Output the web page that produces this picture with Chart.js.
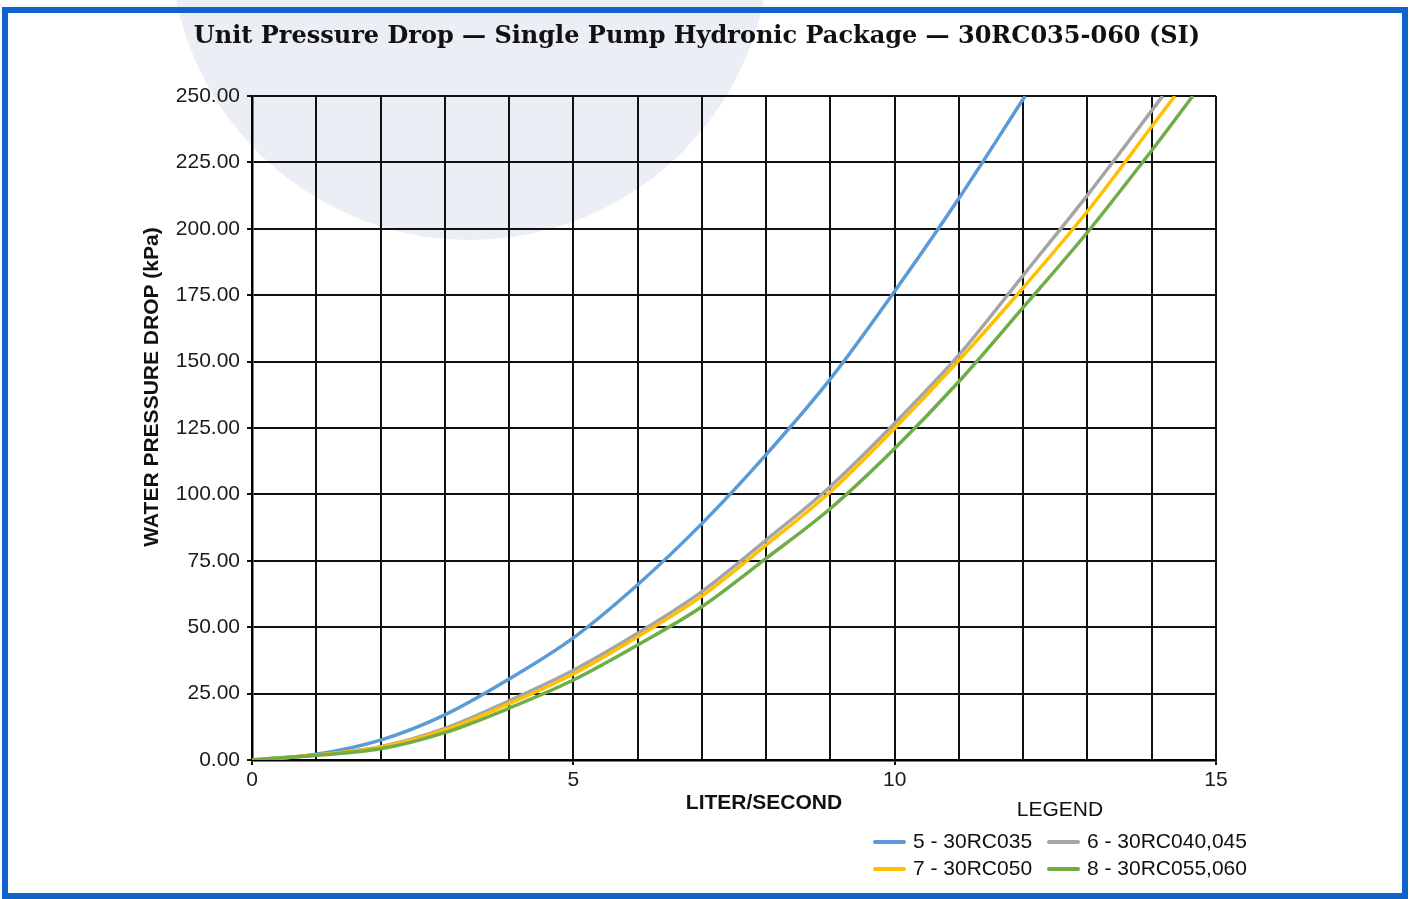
<!DOCTYPE html>
<html>
<head>
<meta charset="utf-8">
<script src="https://cdn.jsdelivr.net/npm/chart.js@4.4.1/dist/chart.umd.min.js"></script>
<style>
    html, body { margin: 0; padding: 0; background: #fff; }
    #wrap { position: relative; width: 1409px; height: 899px; }
    #frame {
        position: absolute; left: 2px; top: 7px; right: 1px; bottom: 0;
        border: 6px solid #0f63c9; pointer-events: none;
    }
</style>
</head>
<body>
<div id="wrap">
    <canvas id="pdChart" width="1409" height="899"></canvas>
    <div id="frame"></div>
</div>
<script>
// Flow (l/s) and pressure drop (kPa)
const seriesLabels = ['5 - 30RC035', '6 - 30RC040,045', '7 - 30RC050', '8 - 30RC055,060'];
const seriesColors = ['#5b9bd5', '#a5a5a5', '#ffc000', '#70ad47'];

const flow035 = [0, 1, 2, 3, 4, 5, 6, 7, 8, 9, 10, 11, 12.03];
const drop035 = [0, 2.2, 7.5, 17, 30.5, 46, 66, 89, 115, 143.5, 176.5, 211.5, 250];

const flow040 = [0, 1, 2, 3, 4, 5, 6, 7, 8, 9, 10, 11, 12, 13, 14, 14.17];
const drop040 = [0, 1.9, 5, 11.9, 22.3, 33.8, 47.7, 63.4, 82.8, 103, 126.8, 152.5, 182.5, 212.7, 244.5, 250];

const flow050 = [0, 1, 2, 3, 4, 5, 6, 7, 8, 9, 10, 11, 12, 13, 14, 14.36];
const drop050 = [0, 1.9, 4.8, 11.3, 21.2, 32.4, 46.4, 61.7, 80.9, 101, 124.9, 150.5, 177.8, 206.6, 238.5, 250];

const flow055 = [0, 1, 2, 3, 4, 5, 6, 7, 8, 9, 10, 11, 12, 13, 14, 14.64];
const drop055 = [0, 1.8, 4.2, 10.3, 19.5, 30.1, 43.3, 57.7, 75.9, 94.7, 117.3, 142.5, 170.4, 198.7, 229.5, 250];

const xTitle = 'LITER/SECOND';
const yTitle = 'WATER PRESSURE DROP (kPa)';
const chartTitle = 'Unit Pressure Drop \u2014 Single Pump Hydronic Package \u2014 30RC035-060 (SI)';

const sansFont = '"Liberation Sans", Arial, sans-serif';

function toPoints(xs, ys) {
    return xs.map((x, i) => ({ x: x, y: ys[i] }));
}

// faint watermark disc behind the plot
const watermark = {
    id: 'watermark',
    beforeDraw(chart) {
        const ctx = chart.ctx;
        ctx.save();
        ctx.fillStyle = '#eceef5';
        ctx.beginPath();
        ctx.arc(470, -60, 300, 0, Math.PI * 2);
        ctx.fill();
        ctx.restore();
    }
};

// title, axis titles and the two-column legend
const extras = {
    id: 'extras',
    afterDraw(chart) {
        const ctx = chart.ctx;
        const area = chart.chartArea;
        ctx.save();
        ctx.fillStyle = '#111';
        ctx.textAlign = 'center';
        ctx.textBaseline = 'middle';

        ctx.font = 'bold 24px "DejaVu Serif", serif';
        ctx.fillText(chartTitle, 697, 37);

        ctx.font = 'bold 21px ' + sansFont;
        ctx.fillText(xTitle, (area.left + area.right) / 2 + 30, area.bottom + 43);

        ctx.save();
        ctx.translate(area.left - 100, (area.top + area.bottom) / 2 - 41);
        ctx.rotate(-Math.PI / 2);
        ctx.fillText(yTitle, 0, 0);
        ctx.restore();

        ctx.font = '21px ' + sansFont;
        ctx.fillText('LEGEND', area.right - 156, area.bottom + 50);

        const colX = [area.right - 343, area.right - 169];
        const rowY = [area.bottom + 82, area.bottom + 109];
        ctx.textAlign = 'left';
        chart.data.datasets.forEach((ds, i) => {
            const x = colX[i % 2];
            const y = rowY[Math.floor(i / 2)];
            ctx.strokeStyle = ds.borderColor;
            ctx.lineWidth = 4;
            ctx.lineCap = 'round';
            ctx.beginPath();
            ctx.moveTo(x + 2, y);
            ctx.lineTo(x + 31, y);
            ctx.stroke();
            ctx.fillText(ds.label, x + 40, y);
        });
        ctx.restore();
    }
};

const datasets = [
    [flow035, drop035], [flow040, drop040], [flow050, drop050], [flow055, drop055]
].map((pair, i) => ({
    label: seriesLabels[i],
    data: toPoints(pair[0], pair[1]),
    borderColor: seriesColors[i],
    backgroundColor: seriesColors[i],
    borderWidth: 3.5,
    pointRadius: 0,
    cubicInterpolationMode: 'monotone',
    fill: false,
    order: 4 - i
}));

new Chart(document.getElementById('pdChart'), {
    type: 'line',
    data: { datasets: datasets },
    plugins: [watermark, extras],
    options: {
        responsive: false,
        animation: false,
        layout: {
            padding: { top: 96, left: 0, right: 193, bottom: 99 }
        },
        plugins: {
            legend: { display: false },
            tooltip: { enabled: false },
            title: { display: false }
        },
        scales: {
            x: {
                type: 'linear',
                min: 0,
                max: 15,
                afterFit: function(scale) { scale.height = 40; },
                ticks: {
                    stepSize: 1,
                    autoSkip: false,
                    maxRotation: 0,
                    padding: 3,
                    color: '#1a1a1a',
                    font: { family: sansFont, size: 21 },
                    callback: function(v) { return v % 5 === 0 ? String(v) : ''; }
                },
                grid: {
                    color: '#111',
                    lineWidth: 2,
                    tickLength: 5,
                    tickColor: function(c) { return c.tick && c.tick.value % 5 === 0 ? '#111' : 'rgba(0,0,0,0)'; }
                },
                border: { color: '#000', width: 2.5 }
            },
            y: {
                min: 0,
                max: 250,
                afterFit: function(scale) { scale.width = 252; },
                ticks: {
                    stepSize: 25,
                    padding: 7,
                    color: '#1a1a1a',
                    font: { family: sansFont, size: 21 },
                    callback: function(v) { return v.toFixed(2); }
                },
                grid: {
                    color: '#111',
                    lineWidth: 2,
                    tickLength: 5
                },
                border: { color: '#000', width: 2.5 }
            }
        }
    }
});
</script>
</body>
</html>
